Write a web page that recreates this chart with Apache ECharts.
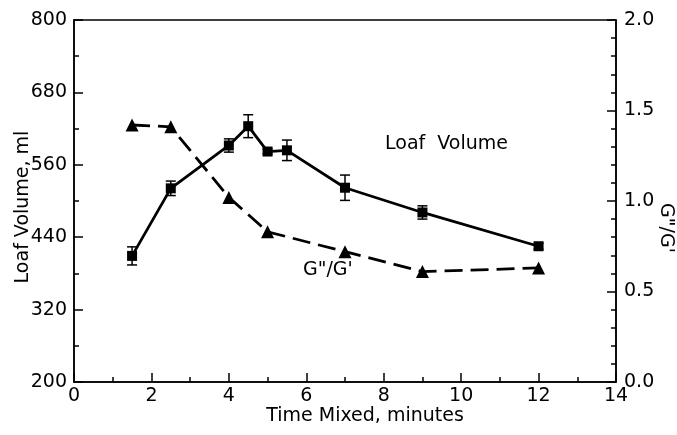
<!DOCTYPE html>
<html>
<head>
<meta charset="utf-8">
<script src="https://cdn.jsdelivr.net/npm/echarts@6/dist/echarts.min.js"></script>
<style>
  html, body { margin: 0; padding: 0; background: #fff; }
  #chart { width: 677px; height: 435px; }
</style>
</head>
<body>
<div id="chart"></div>
<script>
// data
var timeMixed = [1.5, 2.5, 4, 4.5, 5, 5.5, 7, 9, 12];
var loafVolume = [409, 521, 592, 624, 582, 584, 522, 481, 425];
var loafErr = [15, 12, 11, 19, 4, 17, 21, 11, 5];
var ratioTime = [1.5, 2.5, 4, 5, 7, 9, 12];
var ratioG = [1.42, 1.41, 1.02, 0.83, 0.72, 0.61, 0.63];

var font = 'DejaVu Sans';
var fs = 19;
var chart = echarts.init(document.getElementById('chart'));

var loadPts = timeMixed.map(function (t, i) { return [t, loafVolume[i]]; });
var errPts = timeMixed.map(function (t, i) { return [t, loafVolume[i] - loafErr[i], loafVolume[i] + loafErr[i]]; });
var ratioPts = ratioTime.map(function (t, i) { return [t, ratioG[i]]; });

var option = {
  animation: false,
  backgroundColor: '#fff',
  grid: { left: 74, right: 61, top: 20, bottom: 53, show: true, borderColor: '#000', borderWidth: 1.5,
    containLabel: false, outerBoundsMode: 'none' },
  xAxis: {
    type: 'value', min: 0, max: 14, interval: 2,
    name: 'Time Mixed, minutes', nameLocation: 'middle', nameGap: 25, nameMoveOverlap: false,
    nameTextStyle: { color: '#000', fontSize: fs, fontFamily: font, padding: [0, 0, 0, 40] },
    axisLine: { lineStyle: { color: '#000', width: 1.5 } },
    axisTick: { inside: true, length: 9, lineStyle: { color: '#000', width: 1.5 } },
    minorTick: { show: true, splitNumber: 2, length: 5, lineStyle: { color: '#000', width: 1.5 } },
    axisLabel: { color: '#000', fontSize: fs, fontFamily: font, margin: 5 },
    splitLine: { show: false }
  },
  yAxis: [{
    type: 'value', min: 200, max: 800, interval: 120,
    name: 'Loaf Volume, ml', nameLocation: 'middle', nameGap: 41, nameMoveOverlap: false,
    nameTextStyle: { color: '#000', fontSize: fs, fontFamily: font, padding: [0, 12, 0, 0] },
    axisLine: { show: true, lineStyle: { color: '#000', width: 1.5 } },
    axisTick: { show: true, inside: true, length: 9, lineStyle: { color: '#000', width: 1.5 } },
    minorTick: { show: true, splitNumber: 2, length: 5, lineStyle: { color: '#000', width: 1.5 } },
    axisLabel: { color: '#000', fontSize: fs, fontFamily: font, margin: 7 },
    splitLine: { show: false }
  }, {
    type: 'value', min: 0, max: 2, interval: 0.5, position: 'right',
    name: 'G"/G\'', nameLocation: 'middle', nameGap: 40, nameRotate: -90, nameMoveOverlap: false,
    nameTextStyle: { color: '#000', fontSize: fs, fontFamily: font, padding: [0, 0, 0, 54] },
    axisLine: { show: true, lineStyle: { color: '#000', width: 1.5 } },
    axisTick: { show: true, inside: true, length: 9, lineStyle: { color: '#000', width: 1.5 } },
    minorTick: { show: true, splitNumber: 5, length: 5, lineStyle: { color: '#000', width: 1.5 } },
    axisLabel: { color: '#000', fontSize: fs, fontFamily: font, margin: 8,
      formatter: function (v) { return v.toFixed(1); } },
    splitLine: { show: false }
  }],
  graphic: [
    { type: 'text', left: 385, top: 135, style: { text: 'Loaf  Volume', fontSize: fs, fontFamily: font, fill: '#000' } },
    { type: 'text', left: 303, top: 261, style: { text: 'G"/G\'', fontSize: fs, fontFamily: font, fill: '#000' } }
  ],
  series: [{
    type: 'custom',
    yAxisIndex: 0,
    data: errPts,
    z: 3,
    renderItem: function (params, api) {
      var lo = api.coord([api.value(0), api.value(1)]);
      var hi = api.coord([api.value(0), api.value(2)]);
      var w = 5;
      var st = { stroke: '#000', lineWidth: 1.5 };
      return {
        type: 'group',
        children: [
          { type: 'line', shape: { x1: lo[0], y1: lo[1], x2: hi[0], y2: hi[1] }, style: st },
          { type: 'line', shape: { x1: lo[0] - w, y1: lo[1], x2: lo[0] + w, y2: lo[1] }, style: st },
          { type: 'line', shape: { x1: hi[0] - w, y1: hi[1], x2: hi[0] + w, y2: hi[1] }, style: st }
        ]
      };
    }
  }, {
    name: 'Loaf Volume',
    type: 'line',
    yAxisIndex: 0,
    data: loadPts,
    symbol: 'rect',
    symbolSize: 10,
    itemStyle: { color: '#000' },
    lineStyle: { color: '#000', width: 2.8 },
    z: 4
  }, {
    name: 'G"/G\'',
    type: 'line',
    yAxisIndex: 1,
    data: ratioPts,
    symbol: 'triangle',
    symbolSize: 13,
    itemStyle: { color: '#000' },
    lineStyle: { color: '#000', width: 2.8, type: [18, 8] },
    z: 4
  }]
};

chart.setOption(option);
</script>
</body>
</html>
